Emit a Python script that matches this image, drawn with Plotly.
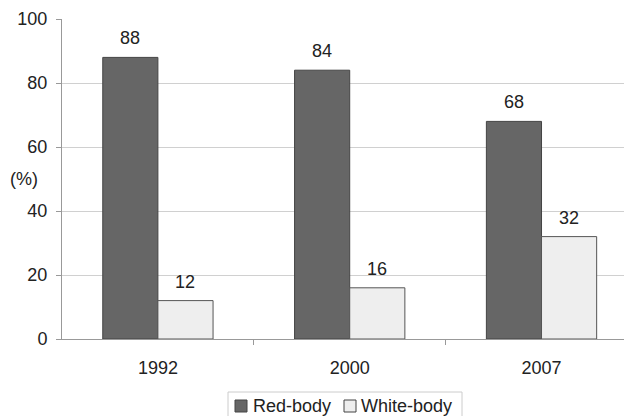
import plotly.graph_objects as go

years = ["1992", "2000", "2007"]
red_body = [88, 84, 68]
white_body = [12, 16, 32]
y_ticks = [0, 20, 40, 60, 80, 100]
series_names = ["Red-body", "White-body"]
series_colors = ["#666666", "#eeeeee"]
series_lines = ["#444444", "#555555"]

xpos = list(range(len(years)))
font = dict(family="Liberation Sans, Arial, sans-serif", size=18, color="#222222")
BARGAP = 0.425
half_bar = (1 - BARGAP) / 4  # centre offset of each bar inside a group

# plot area geometry (pixels) for paper-coordinate conversion
L, T, W, H = 62, 19, 562, 320
def px(x):
    return (x - L) / W
def py(y):
    return (T + H - y) / H

fig = go.Figure()
for name, vals, col, lc in zip(series_names, [red_body, white_body], series_colors, series_lines):
    fig.add_trace(go.Bar(
        x=xpos, y=vals, name=name, showlegend=False,
        marker=dict(color=col, line=dict(color=lc, width=1)),
    ))

annotations = [dict(
    text="(%)", xref="paper", yref="paper", x=px(24), y=py(179),
    xanchor="center", yanchor="middle", showarrow=False, font=font,
)]
for i, v in zip(xpos, red_body):
    annotations.append(dict(x=i - half_bar, y=v, text=str(v), showarrow=False,
                            xanchor="center", yanchor="bottom", yshift=7, font=font))
for i, v in zip(xpos, white_body):
    annotations.append(dict(x=i + half_bar, y=v, text=str(v), showarrow=False,
                            xanchor="center", yanchor="bottom", yshift=7, font=font))

# legend (drawn manually to match the compact reference legend)
shapes = [dict(type="rect", xref="paper", yref="paper",
               x0=px(228), x1=px(462), y0=py(392), y1=py(420),
               line=dict(color="#cccccc", width=1), fillcolor="white", layer="below")]
legend_sq_x = [235, 344]
legend_tx_x = [251, 359]
for name, col, lc, sx, tx in zip(series_names, series_colors, series_lines, legend_sq_x, legend_tx_x):
    shapes.append(dict(type="rect", xref="paper", yref="paper",
                       x0=px(sx), x1=px(sx + 12), y0=py(412), y1=py(400),
                       line=dict(color="#444444", width=1), fillcolor=col))
    annotations.append(dict(text=name, xref="paper", yref="paper", x=px(tx), y=py(406),
                            xanchor="left", yanchor="middle", showarrow=False, font=font))

fig.update_layout(
    width=624, height=416,
    margin=dict(l=L, r=624 - L - W, t=T, b=416 - T - H, autoexpand=False),
    paper_bgcolor="white", plot_bgcolor="white",
    font=font,
    barmode="group", bargap=BARGAP, bargroupgap=0,
    showlegend=False,
    xaxis=dict(
        range=[-0.5, 2.43], tickvals=xpos, ticktext=years,
        ticks="", showgrid=False, zeroline=False, automargin=False,
        showline=True, linecolor="#999999", linewidth=1,
        minor=dict(tickvals=[0.5, 1.5], ticks="outside", ticklen=5, tickcolor="#999999"),
        tickfont=font, ticklabelstandoff=12,
    ),
    yaxis=dict(
        range=[0, 100], tickvals=y_ticks, ticks="outside", ticklen=5,
        tickcolor="#999999", showgrid=True, gridcolor="#d0d0d0", gridwidth=1,
        zeroline=False, showline=True, linecolor="#999999", linewidth=1,
        tickfont=font, automargin=False, ticklabelstandoff=5,
    ),
    annotations=annotations,
    shapes=shapes,
)

fig.write_html("out.html", config={"displayModeBar": False},
               post_script="document.body.style.margin='0px';")
